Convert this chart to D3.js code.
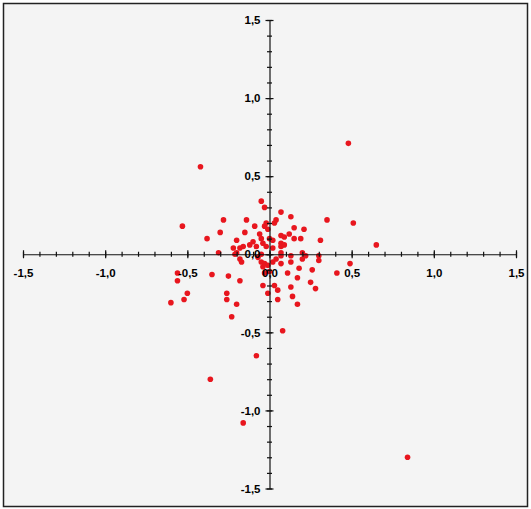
<!DOCTYPE html>
<html lang="en">
<head>
<meta charset="UTF-8">
<title>Scatter</title>
<style>
  body { margin: 0; background: #fff; }
</style>
</head>
<body>
<svg width="531" height="509"></svg>
<script src="https://cdn.jsdelivr.net/npm/d3@7"></script>
<script>
// data
var xs = [-0.42,-0.53,-0.38,-0.28,-0.30,-0.31,-0.14,-0.15,-0.09,-0.05,-0.03,-0.02,-0.03,-0.01,-0.06,-0.05,-0.10,-0.04,-0.12,-0.16,-0.18,-0.08,-0.02,-0.20,-0.21,-0.05,0.00,-0.20,-0.22,
          0.48,0.07,0.13,0.04,0.03,0.35,0.51,0.65,0.15,0.21,0.12,0.07,0.09,0.15,0.19,0.02,0.31,0.07,0.02,0.07,0.07,0.13,0.20,0.22,0.30,0.09,
          0.49,0.41,0.07,0.20,0.30,0.07,0.13,0.18,0.26,0.11,0.00,0.17,0.25,0.03,0.28,0.13,0.05,0.14,0.05,0.17,0.08,0.84,
          -0.17,-0.05,-0.04,-0.35,-0.25,-0.18,-0.03,-0.04,-0.26,-0.01,-0.26,-0.20,-0.23,-0.56,-0.56,-0.50,-0.60,-0.52,-0.08,-0.36,-0.16,-0.18,-0.03,-0.01,-0.07,0.02,0.04];
var ys = [0.56,0.18,0.10,0.22,0.14,0.01,0.22,0.14,0.18,0.34,0.30,0.20,0.18,0.16,0.13,0.10,0.08,0.07,0.06,0.05,0.04,0.05,0.05,0.01,0.00,0.00,0.10,0.09,0.04,
          0.71,0.27,0.24,0.22,0.20,0.22,0.20,0.06,0.17,0.16,0.13,0.12,0.11,0.10,0.10,0.09,0.09,0.07,0.04,0.05,0.01,-0.01,0.01,-0.01,-0.01,0.06,
          -0.06,-0.12,-0.01,-0.03,-0.04,-0.06,-0.05,-0.09,-0.10,-0.12,-0.11,-0.15,-0.18,-0.20,-0.22,-0.21,-0.23,-0.27,-0.29,-0.32,-0.49,-1.30,
          -0.05,-0.05,-0.08,-0.13,-0.14,-0.17,-0.12,-0.20,-0.25,-0.25,-0.29,-0.32,-0.40,-0.12,-0.17,-0.25,-0.31,-0.29,-0.65,-0.80,-1.08,-0.03,-0.06,-0.07,-0.02,-0.05,-0.03];
var majorTicks = [-1.5,-1.0,-0.5,0.0,0.5,1.0,1.5];
var minorTicks = d3.range(-15,16).map(function(d){ return d/10; });

var svg = d3.select("svg");

// frame
svg.append("rect")
  .attr("x",3.5).attr("y",3.5)
  .attr("width",524).attr("height",503)
  .attr("fill","#f4f4f4")
  .attr("stroke","#222").attr("stroke-width",1.5);

var x = d3.scaleLinear().domain([-1.5,1.5]).range([23,516]);
var y = d3.scaleLinear().domain([-1.5,1.5]).range([488.5,20]);
var x0 = x(0), y0 = y(0);

var fmt = function(d){ return d3.format(".1f")(d).replace(".",",").replace("−","-"); };

// points first, axes and labels drawn over them
svg.append("g").selectAll("circle")
  .data(d3.range(xs.length))
  .enter()
  .append("circle")
  .attr("cx",function(i){ return x(xs[i]); })
  .attr("cy",function(i){ return y(ys[i]); })
  .attr("r",2.8)
  .attr("fill","#e8161e");

// x axis : main line, minor ticks, major ticks + labels
svg.append("g").attr("transform","translate(0,"+y0+")")
  .call(d3.axisBottom(x).tickValues([]).tickSizeOuter(0));
svg.append("g").attr("transform","translate(0,"+(y0-2.5)+")")
  .call(d3.axisBottom(x).tickValues(minorTicks).tickSize(5).tickFormat(""))
  .call(function(g){ g.select(".domain").remove(); });
svg.append("g").attr("class","lab").attr("transform","translate(0,"+(y0-4)+")")
  .call(d3.axisBottom(x).tickValues(majorTicks).tickSize(8).tickPadding(11).tickFormat(fmt))
  .call(function(g){ g.select(".domain").remove(); });

// y axis
svg.append("g").attr("transform","translate("+x0+",0)")
  .call(d3.axisLeft(y).tickValues([]).tickSizeOuter(0));
svg.append("g").attr("transform","translate("+(x0+2.5)+",0)")
  .call(d3.axisLeft(y).tickValues(minorTicks).tickSize(5).tickFormat(""))
  .call(function(g){ g.select(".domain").remove(); });
svg.append("g").attr("class","lab").attr("transform","translate("+(x0+4)+",0)")
  .call(d3.axisLeft(y).tickValues(majorTicks).tickSize(8).tickPadding(5).tickFormat(fmt))
  .call(function(g){ g.select(".domain").remove(); });

svg.selectAll(".domain, .tick line").attr("stroke","#111").attr("stroke-width",1.2);
svg.selectAll(".lab text").attr("fill","#000")
  .style("font-family","'Liberation Sans', Arial, sans-serif")
  .style("font-weight","bold").style("font-size","11.5px");
</script>
</body>
</html>
